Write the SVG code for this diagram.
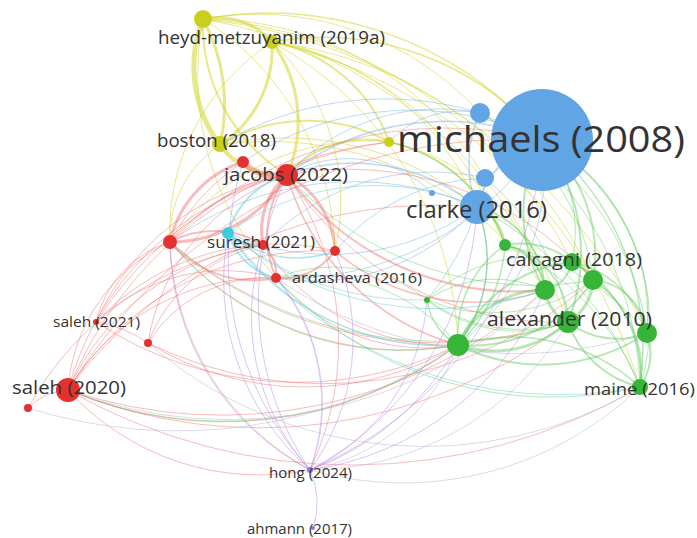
<svg xmlns="http://www.w3.org/2000/svg" width="697" height="538" viewBox="0 0 697 538">
<defs>
<style>
.c path{fill:none;stroke-linecap:round}
.y{stroke:#d3d62e;stroke-opacity:.55}
.b{stroke:#7db2e6;stroke-opacity:.5}
.r{stroke:#f06a6a;stroke-opacity:.45}
.cy{stroke:#5fd0dc;stroke-opacity:.5}
.g{stroke:#5cc95c;stroke-opacity:.45}
.p{stroke:#b48ce6;stroke-opacity:.5}
.gp{stroke:#b8b6d4;stroke-opacity:.5}
.ny{fill:#c9cf1c}
.nb{fill:#62a5e4}
.nr{fill:#e3312f}
.nc{fill:#3ecbe0}
.ng{fill:#37b537}
.np{fill:#9b6fd8}
text{font-family:"Open Sans","Noto Sans","DejaVu Sans",sans-serif;fill:#333}
</style>
</defs>
<rect width="697" height="538" fill="#ffffff"/>
<g id="connectors" class="c">
<path class="y" stroke-width="5" d="M203 19 A130 130 0 0 0 220 145"/>
<path class="y" stroke-width="3" d="M203 19 A180 180 0 0 1 220 145"/>
<path class="y" stroke-width="3" d="M272 42 A115 115 0 0 1 220 145"/>
<path class="y" stroke-width="3" d="M203 19 A72 72 0 0 1 272 42"/>
<path class="y" stroke-width="2" d="M203 19 A177 177 0 0 0 287 175"/>
<path class="y" stroke-width="3" d="M272 42 A134 134 0 0 1 287 175"/>
<path class="y" stroke-width="1.5" d="M203 19 A360 360 0 0 1 542 140"/>
<path class="y" stroke-width="1.5" d="M272 42 A285 285 0 0 1 542 140"/>
<path class="y" stroke-width="1" d="M272 42 A263 263 0 0 1 477 207"/>
<path class="y" stroke-width="2" d="M272 42 A154 154 0 0 1 389 142"/>
<path class="y" stroke-width="2" d="M220 145 A169 169 0 0 1 389 142"/>
<path class="y" stroke-width="1" d="M203 19 A474 474 0 0 1 568 322"/>
<path class="y" stroke-width="1" d="M272 42 A400 400 0 0 1 593 280"/>
<path class="y" stroke-width="4" d="M220 145 A73 73 0 0 0 287 175"/>
<path class="y" stroke-width="1" d="M203 19 A442 442 0 0 1 572 262"/>
<path class="y" stroke-width="1.5" d="M389 142 A155 155 0 0 1 505 245"/>
<path class="y" stroke-width="2" d="M389 142 A107 107 0 0 0 287 175"/>
<path class="y" stroke-width="1" d="M220 145 A109 109 0 0 0 170 242"/>
<path class="y" stroke-width="1" d="M272 42 A218 218 0 0 1 335 251"/>
<path class="y" stroke-width="1" d="M203 19 A324 324 0 0 1 485 178"/>
<path class="y" stroke-width="1" d="M272 42 A356 356 0 0 1 458 345"/>
<path class="y" stroke-width="1" d="M389 142 A241 241 0 0 0 170 242"/>
<path class="y" stroke-width="1" d="M272 42 A225 225 0 0 0 170 242"/>
<path class="y" stroke-width="1" d="M203 19 A280 280 0 0 1 335 251"/>
<path class="y" stroke-width="1" d="M203 19 A300 300 0 0 0 276 278"/>
<path class="y" stroke-width="1" d="M389 142 A200 200 0 0 1 545 290"/>
<path class="y" stroke-width="1" d="M220 145 A300 300 0 0 1 477 207"/>
<path class="y" stroke-width="1" d="M203 19 A560 560 0 0 1 647 333"/>
<path class="y" stroke-width="1" d="M272 42 A500 500 0 0 1 640 387"/>
<path class="y" stroke-width="1" d="M203 19 A300 300 0 0 1 480 113"/>
<path class="y" stroke-width="1" d="M272 42 A300 300 0 0 1 505 245"/>
<path class="y" stroke-width="1" d="M220 145 A330 330 0 0 1 545 290"/>
<path class="b" stroke-width="2" d="M542 140 A93 93 0 0 0 477 207"/>
<path class="b" stroke-width="1.5" d="M480 113 A120 120 0 0 0 477 207"/>
<path class="b" stroke-width="1.5" d="M542 140 A260 260 0 0 0 287 175"/>
<path class="b" stroke-width="1.5" d="M477 207 A195 195 0 0 0 287 175"/>
<path class="b" stroke-width="1" d="M480 113 A207 207 0 0 0 287 175"/>
<path class="b" stroke-width="1" d="M477 207 A310 310 0 0 0 170 242"/>
<path class="b" stroke-width="1" d="M477 207 A218 218 0 0 1 276 278"/>
<path class="b" stroke-width="1" d="M542 140 A301 301 0 0 1 276 278"/>
<path class="b" stroke-width="1" d="M477 207 A251 251 0 0 1 228 233"/>
<path class="b" stroke-width="1" d="M485 178 A233 233 0 0 0 263 245"/>
<path class="b" stroke-width="1" d="M542 140 A216 216 0 0 1 458 345"/>
<path class="b" stroke-width="1" d="M477 207 A139 139 0 0 1 458 345"/>
<path class="b" stroke-width="1" d="M542 140 A299 299 0 0 0 243 162"/>
<path class="b" stroke-width="1" d="M480 113 A97 97 0 0 0 389 142"/>
<path class="b" stroke-width="1" d="M485 178 A200 200 0 0 0 335 251"/>
<path class="b" stroke-width="1" d="M432 193 A120 120 0 0 0 287 175"/>
<path class="b" stroke-width="1" d="M477 207 A260 260 0 0 1 427 300"/>
<path class="b" stroke-width="1" d="M480 113 A320 320 0 0 0 220 145"/>
<path class="r" stroke-width="6" d="M287 175 A46 46 0 0 1 243 162"/>
<path class="r" stroke-width="3" d="M287 175 A135 135 0 0 1 170 242"/>
<path class="r" stroke-width="3" d="M243 162 A108 108 0 0 0 170 242"/>
<path class="r" stroke-width="3" d="M287 175 A73 73 0 0 0 263 245"/>
<path class="r" stroke-width="3" d="M287 175 A90 90 0 0 1 335 251"/>
<path class="r" stroke-width="2" d="M287 175 A104 104 0 0 0 276 278"/>
<path class="r" stroke-width="2" d="M170 242 A93 93 0 0 1 263 245"/>
<path class="r" stroke-width="2" d="M170 242 A111 111 0 0 0 276 278"/>
<path class="r" stroke-width="2" d="M263 245 A40 40 0 0 1 276 278"/>
<path class="r" stroke-width="2" d="M335 251 A65 65 0 0 1 276 278"/>
<path class="r" stroke-width="1" d="M170 242 A176 176 0 0 0 68 390"/>
<path class="r" stroke-width="1" d="M170 242 A109 109 0 0 0 96 322"/>
<path class="r" stroke-width="1" d="M68 390 A301 301 0 0 1 287 175"/>
<path class="r" stroke-width="1" d="M68 390 A251 251 0 0 1 263 245"/>
<path class="r" stroke-width="1" d="M68 390 A230 230 0 0 1 276 278"/>
<path class="r" stroke-width="1" d="M68 390 A297 297 0 0 1 335 251"/>
<path class="r" stroke-width="1" d="M68 390 A395 395 0 0 0 458 345"/>
<path class="r" stroke-width="1" d="M68 390 A454 454 0 0 1 477 207"/>
<path class="r" stroke-width="1" d="M68 390 A60 60 0 0 0 28 408"/>
<path class="r" stroke-width="1" d="M96 322 A251 251 0 0 1 287 175"/>
<path class="r" stroke-width="1" d="M96 322 A248 248 0 0 1 335 251"/>
<path class="r" stroke-width="1" d="M96 322 A185 185 0 0 1 276 278"/>
<path class="r" stroke-width="1" d="M148 343 A213 213 0 0 1 287 175"/>
<path class="r" stroke-width="1" d="M148 343 A138 138 0 0 1 276 278"/>
<path class="r" stroke-width="1" d="M148 343 A157 157 0 0 1 263 245"/>
<path class="r" stroke-width="1" d="M170 242 A268 268 0 0 0 310 470"/>
<path class="r" stroke-width="1" d="M287 175 A297 297 0 0 1 310 470"/>
<path class="r" stroke-width="1" d="M68 390 A258 258 0 0 0 310 470"/>
<path class="r" stroke-width="2" d="M287 175 A285 285 0 0 0 545 290"/>
<path class="r" stroke-width="1.5" d="M287 175 A246 246 0 0 0 458 345"/>
<path class="r" stroke-width="1" d="M287 175 A325 325 0 0 1 593 280"/>
<path class="r" stroke-width="1" d="M287 175 A319 319 0 0 0 568 322"/>
<path class="r" stroke-width="1" d="M263 245 A220 220 0 0 0 458 345"/>
<path class="r" stroke-width="1" d="M170 242 A305 305 0 0 0 458 345"/>
<path class="r" stroke-width="1" d="M170 242 A390 390 0 0 1 542 140"/>
<path class="r" stroke-width="1" d="M68 390 A572 572 0 0 0 640 387"/>
<path class="r" stroke-width="1" d="M68 390 A502 502 0 0 0 568 322"/>
<path class="r" stroke-width="1" d="M96 322 A364 364 0 0 0 458 345"/>
<path class="r" stroke-width="1" d="M170 242 A408 408 0 0 0 568 322"/>
<path class="r" stroke-width="1" d="M276 278 A192 192 0 0 0 458 345"/>
<path class="r" stroke-width="1.5" d="M335 251 A214 214 0 0 0 545 290"/>
<path class="r" stroke-width="1" d="M243 162 A220 220 0 0 0 170 242"/>
<path class="r" stroke-width="1" d="M96 322 A120 120 0 0 1 148 343"/>
<path class="r" stroke-width="1" d="M148 343 A300 300 0 0 0 458 345"/>
<path class="r" stroke-width="1" d="M28 408 A320 320 0 0 1 263 245"/>
<path class="r" stroke-width="1" d="M96 322 A400 400 0 0 1 389 142"/>
<path class="r" stroke-width="1" d="M68 390 A520 520 0 0 1 542 140"/>
<path class="r" stroke-width="1" d="M68 390 A400 400 0 0 1 389 142"/>
<path class="r" stroke-width="1" d="M68 390 A480 480 0 0 0 545 290"/>
<path class="r" stroke-width="1" d="M148 343 A400 400 0 0 0 593 280"/>
<path class="r" stroke-width="1" d="M170 242 A200 200 0 0 1 287 175"/>
<path class="cy" stroke-width="2" d="M228 233 A84 84 0 0 1 287 175"/>
<path class="cy" stroke-width="3" d="M228 233 A40 40 0 0 0 263 245"/>
<path class="cy" stroke-width="1.5" d="M228 233 A258 258 0 0 0 458 345"/>
<path class="cy" stroke-width="1" d="M228 233 A251 251 0 0 1 477 207"/>
<path class="cy" stroke-width="2" d="M228 233 A67 67 0 0 0 276 278"/>
<path class="cy" stroke-width="1" d="M228 233 A324 324 0 0 0 545 290"/>
<path class="cy" stroke-width="1.5" d="M228 233 A108 108 0 0 0 335 251"/>
<path class="cy" stroke-width="1" d="M228 233 A300 300 0 0 0 427 300"/>
<path class="cy" stroke-width="1" d="M228 233 A420 420 0 0 0 640 387"/>
<path class="g" stroke-width="2" d="M505 245 A80 80 0 0 1 572 262"/>
<path class="g" stroke-width="3" d="M572 262 A40 40 0 0 1 593 280"/>
<path class="g" stroke-width="3" d="M593 280 A50 50 0 0 1 568 322"/>
<path class="g" stroke-width="3" d="M545 290 A40 40 0 0 0 568 322"/>
<path class="g" stroke-width="2" d="M568 322 A80 80 0 0 0 647 333"/>
<path class="g" stroke-width="2" d="M647 333 A60 60 0 0 1 640 387"/>
<path class="g" stroke-width="2" d="M568 322 A100 100 0 0 0 640 387"/>
<path class="g" stroke-width="3" d="M458 345 A95 95 0 0 1 545 290"/>
<path class="g" stroke-width="3" d="M458 345 A110 110 0 0 0 568 322"/>
<path class="g" stroke-width="2" d="M458 345 A140 140 0 0 1 572 262"/>
<path class="g" stroke-width="2" d="M458 345 A145 145 0 0 0 593 280"/>
<path class="g" stroke-width="2" d="M593 280 A110 110 0 0 1 640 387"/>
<path class="g" stroke-width="1.5" d="M572 262 A130 130 0 0 1 640 387"/>
<path class="g" stroke-width="1.5" d="M505 245 A110 110 0 0 0 458 345"/>
<path class="g" stroke-width="1" d="M427 300 A120 120 0 0 1 545 290"/>
<path class="g" stroke-width="1" d="M427 300 A145 145 0 0 0 568 322"/>
<path class="g" stroke-width="1.5" d="M427 300 A60 60 0 0 0 458 345"/>
<path class="g" stroke-width="2" d="M545 290 A90 90 0 0 0 477 207"/>
<path class="g" stroke-width="1.5" d="M505 245 A45 45 0 0 0 477 207"/>
<path class="g" stroke-width="2" d="M593 280 A150 150 0 0 0 542 140"/>
<path class="g" stroke-width="1.5" d="M647 333 A200 200 0 0 0 542 140"/>
<path class="g" stroke-width="1.5" d="M640 387 A265 265 0 0 0 542 140"/>
<path class="g" stroke-width="1" d="M640 387 A210 210 0 0 0 542 140"/>
<path class="g" stroke-width="2" d="M568 322 A185 185 0 0 0 542 140"/>
<path class="g" stroke-width="2" d="M545 290 A150 150 0 0 1 542 140"/>
<path class="g" stroke-width="1.5" d="M458 345 A140 140 0 0 0 477 207"/>
<path class="g" stroke-width="1.5" d="M640 387 A190 190 0 0 0 458 345"/>
<path class="g" stroke-width="1" d="M427 300 A150 150 0 0 0 276 278"/>
<path class="g" stroke-width="1" d="M458 345 A190 190 0 0 0 276 278"/>
<path class="g" stroke-width="2" d="M505 245 A50 50 0 0 1 545 290"/>
<path class="g" stroke-width="2" d="M572 262 A35 35 0 0 1 545 290"/>
<path class="g" stroke-width="1.5" d="M505 245 A80 80 0 0 1 568 322"/>
<path class="g" stroke-width="1.5" d="M647 333 A60 60 0 0 0 593 280"/>
<path class="g" stroke-width="1.5" d="M572 262 A100 100 0 0 1 647 333"/>
<path class="g" stroke-width="2" d="M458 345 A190 190 0 0 0 647 333"/>
<path class="g" stroke-width="1" d="M427 300 A150 150 0 0 1 572 262"/>
<path class="g" stroke-width="1" d="M427 300 A170 170 0 0 0 593 280"/>
<path class="g" stroke-width="1" d="M458 345 A300 300 0 0 1 170 242"/>
<path class="g" stroke-width="1" d="M458 345 A400 400 0 0 1 68 390"/>
<path class="g" stroke-width="1" d="M640 387 A380 380 0 0 1 276 278"/>
<path class="g" stroke-width="1" d="M593 280 A330 330 0 0 1 287 175"/>
<path class="g" stroke-width="1" d="M647 333 A260 260 0 0 0 505 245"/>
<path class="g" stroke-width="1" d="M640 387 A350 350 0 0 0 477 207"/>
<path class="g" stroke-width="1" d="M568 322 A420 420 0 0 1 170 242"/>
<path class="g" stroke-width="1.5" d="M505 245 A160 160 0 0 0 389 142"/>
<path class="g" stroke-width="1" d="M647 333 A280 280 0 0 0 480 113"/>
<path class="g" stroke-width="1" d="M640 387 A330 330 0 0 0 480 113"/>
<path class="g" stroke-width="1" d="M593 280 A220 220 0 0 0 480 113"/>
<path class="g" stroke-width="1" d="M568 322 A230 230 0 0 0 485 178"/>
<path class="g" stroke-width="1" d="M640 387 A260 260 0 0 0 505 245"/>
<path class="g" stroke-width="1.5" d="M458 345 A150 150 0 0 0 505 245"/>
<path class="g" stroke-width="1" d="M568 322 A160 160 0 0 1 427 300"/>
<path class="g" stroke-width="1" d="M572 262 A140 140 0 0 0 542 140"/>
<path class="gp" stroke-width="1" d="M458 345 A197 197 0 0 1 310 470"/>
<path class="gp" stroke-width="1" d="M568 322 A300 300 0 0 1 310 470"/>
<path class="gp" stroke-width="1" d="M640 387 A340 340 0 0 1 310 470"/>
<path class="gp" stroke-width="1" d="M647 333 A420 420 0 0 1 276 278"/>
<path class="gp" stroke-width="1" d="M68 390 A450 450 0 0 0 545 290"/>
<path class="gp" stroke-width="1" d="M28 408 A500 500 0 0 0 458 345"/>
<path class="gp" stroke-width="1" d="M148 343 A420 420 0 0 0 640 387"/>
<path class="p" stroke-width="1" d="M310 470 A80 80 0 0 1 313 528"/>
<path class="p" stroke-width="1.5" d="M310 470 A193 193 0 0 0 276 278"/>
<path class="p" stroke-width="1" d="M310 470 A229 229 0 0 1 263 245"/>
<path class="p" stroke-width="1" d="M310 470 A221 221 0 0 0 335 251"/>
<path class="p" stroke-width="1" d="M310 470 A252 252 0 0 1 228 233"/>
<path class="p" stroke-width="1" d="M310 470 A202 202 0 0 0 427 300"/>
<path class="p" stroke-width="1" d="M310 470 A316 316 0 0 0 477 207"/>
<path class="p" stroke-width="1" d="M310 470 A297 297 0 0 1 287 175"/>
<path class="p" stroke-width="1" d="M310 470 A260 260 0 0 1 170 242"/>
<path class="p" stroke-width="1" d="M310 470 A315 315 0 0 1 243 162"/>
<path class="p" stroke-width="1" d="M310 470 A280 280 0 0 0 458 345"/>
<path class="p" stroke-width="1" d="M310 470 A300 300 0 0 0 545 290"/>
<path class="p" stroke-width="1" d="M310 470 A380 380 0 0 0 542 140"/>
</g>
<g id="n-y4"><circle class="ny" cx="389" cy="142" r="5"/></g>
<g id="n-b2"><circle class="nb" cx="480" cy="113" r="10"/></g>
<g id="n-b3"><circle class="nb" cx="485" cy="178" r="9"/></g>
<g id="n-b5"><circle class="nb" cx="432" cy="193" r="3"/></g>
<g id="n-r2"><circle class="nr" cx="243" cy="162" r="6"/></g>
<g id="n-r3"><circle class="nr" cx="170" cy="242" r="7"/></g>
<g id="n-c1"><circle class="nc" cx="228" cy="233" r="6"/></g>
<g id="n-r5"><circle class="nr" cx="335" cy="251" r="5"/></g>
<g id="n-r8"><circle class="nr" cx="148" cy="343" r="4"/></g>
<g id="n-r10"><circle class="nr" cx="28" cy="408" r="4"/></g>
<g id="n-g1"><circle class="ng" cx="505" cy="245" r="6"/></g>
<g id="n-g3"><circle class="ng" cx="593" cy="280" r="10"/></g>
<g id="n-g4"><circle class="ng" cx="545" cy="290" r="10"/></g>
<g id="n-g6"><circle class="ng" cx="647" cy="333" r="10"/></g>
<g id="n-g7"><circle class="ng" cx="458" cy="345" r="11"/></g>
<g id="n-g9"><circle class="ng" cx="427" cy="300" r="3"/></g>
<g id="n-y1"><circle class="ny" cx="203" cy="19" r="9"/></g>
<g id="n-heyd"><circle class="ny" cx="272" cy="42" r="7"/><text x="158" y="44" font-size="18" textLength="227" lengthAdjust="spacingAndGlyphs">heyd-metzuyanim (2019a)</text></g>
<g id="n-boston"><circle class="ny" cx="220" cy="144" r="8"/><text x="157" y="147" font-size="18" textLength="119" lengthAdjust="spacingAndGlyphs">boston (2018)</text></g>
<g id="n-jacobs"><circle class="nr" cx="287" cy="175" r="11"/><text x="224" y="181" font-size="19" textLength="124" lengthAdjust="spacingAndGlyphs">jacobs (2022)</text></g>
<g id="n-michaels"><circle class="nb" cx="542" cy="140" r="51"/><text x="397" y="152" font-size="37" textLength="288" lengthAdjust="spacingAndGlyphs">michaels (2008)</text></g>
<g id="n-clarke"><circle class="nb" cx="477" cy="207" r="17"/><text x="406" y="218" font-size="23" textLength="141" lengthAdjust="spacingAndGlyphs">clarke (2016)</text></g>
<g id="n-suresh"><circle class="nr" cx="263" cy="245" r="5"/><text x="207" y="248" font-size="16" textLength="108" lengthAdjust="spacingAndGlyphs">suresh (2021)</text></g>
<g id="n-ardasheva"><circle class="nr" cx="276" cy="278" r="5"/><text x="292" y="283" font-size="15" textLength="130" lengthAdjust="spacingAndGlyphs">ardasheva (2016)</text></g>
<g id="n-calcagni"><circle class="ng" cx="572" cy="262" r="9"/><text x="506" y="266" font-size="19" textLength="136" lengthAdjust="spacingAndGlyphs">calcagni (2018)</text></g>
<g id="n-alexander"><circle class="ng" cx="568" cy="322" r="11"/><text x="487" y="326" font-size="20" textLength="165" lengthAdjust="spacingAndGlyphs">alexander (2010)</text></g>
<g id="n-maine"><circle class="ng" cx="640" cy="387" r="8"/><text x="584" y="395" font-size="17" textLength="111" lengthAdjust="spacingAndGlyphs">maine (2016)</text></g>
<g id="n-saleh2021"><circle class="nr" cx="96" cy="322" r="3"/><text x="53" y="327" font-size="14" textLength="87" lengthAdjust="spacingAndGlyphs">saleh (2021)</text></g>
<g id="n-saleh2020"><circle class="nr" cx="68" cy="390" r="12"/><text x="12" y="394" font-size="19" textLength="114" lengthAdjust="spacingAndGlyphs">saleh (2020)</text></g>
<g id="n-hong"><circle class="np" cx="310" cy="470" r="3"/><text x="269" y="478" font-size="14" textLength="83" lengthAdjust="spacingAndGlyphs">hong (2024)</text></g>
<g id="n-ahmann"><circle class="np" cx="313" cy="528" r="2"/><text x="247" y="534" font-size="14" textLength="105" lengthAdjust="spacingAndGlyphs">ahmann (2017)</text></g>
</svg>
